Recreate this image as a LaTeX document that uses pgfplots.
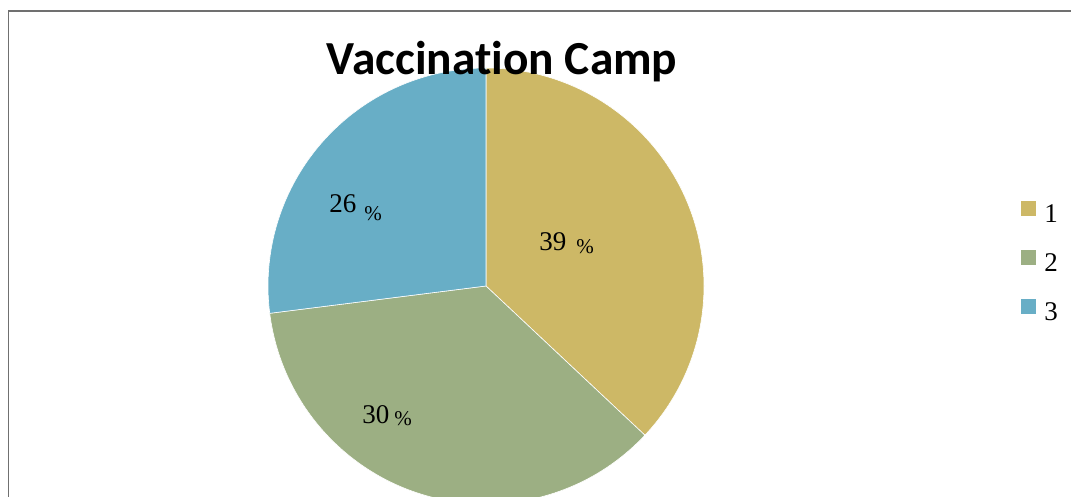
\documentclass[border=0pt]{standalone}
\usepackage{pgfplots}
\pgfplotsset{compat=1.18}
\usepackage{pgfplotstable}
\usepackage{fontspec}
\setmainfont{Liberation Serif}
\newfontfamily\titlefont[Ligatures={NoCommon}]{Carlito}

\definecolor{campGold}{RGB}{205,184,102}
\definecolor{campGreen}{RGB}{156,175,131}
\definecolor{campBlue}{RGB}{104,174,198}
\definecolor{frameGray}{RGB}{112,112,112}

% slice shares as drawn (the printed labels are kept as in the source)
\pgfplotstableread{
id share
1  37.0
2  36.0
3  27.0
}\campdata

\begin{document}
\begin{tikzpicture}
\pgfplotstablegetelem{0}{share}\of\campdata \let\shareA\pgfplotsretval
\pgfplotstablegetelem{1}{share}\of\campdata \let\shareB\pgfplotsretval
\pgfplotstablegetelem{2}{share}\of\campdata \let\shareC\pgfplotsretval
\pgfmathsetmacro\total{\shareA+\shareB+\shareC}
\pgfmathsetmacro\endA{90-360*\shareA/\total}
\pgfmathsetmacro\endB{\endA-360*\shareB/\total}
\path[use as bounding box] (0,0) rectangle (535.5pt,248.5pt);
\begin{axis}[
  at={(0,0)}, anchor=south west,
  scale only axis,
  width=535.5pt, height=248.5pt,
  xmin=0, xmax=1071, ymin=0, ymax=497,
  axis line style={draw=none},
  xtick=\empty, ytick=\empty,
  clip=true,
]
%% outer frame (right and bottom sides fall outside the picture)
\draw[frameGray, line width=0.75pt] (axis cs:8.5,-10) -- (axis cs:8.5,486) -- (axis cs:1080,486);
%% pie, clockwise from 12 o'clock
\fill[campGold, draw=white, line width=0.3pt] (axis cs:486,211) -- ++(90:109pt)
  arc[start angle=90, end angle=\endA, radius=109pt] -- cycle;
\fill[campGreen, draw=white, line width=0.3pt] (axis cs:486,211) -- ++(\endA:109pt)
  arc[start angle=\endA, end angle=\endB, radius=109pt] -- cycle;
\fill[campBlue, draw=white, line width=0.3pt] (axis cs:486,211) -- ++(\endB:109pt)
  arc[start angle=\endB, end angle=-270, radius=109pt] -- cycle;
%% data labels
\begin{scope}[every node/.style={inner sep=0pt, anchor=base west}]
\node[font=\fontsize{13.5}{16}\selectfont] at (axis cs:539,246) {39};
\node[font=\fontsize{10.5}{12}\selectfont] at (axis cs:576,243) {\%};
\node[font=\fontsize{13.5}{16}\selectfont] at (axis cs:329,284) {26};
\node[font=\fontsize{10.5}{12}\selectfont] at (axis cs:364,276) {\%};
\node[font=\fontsize{13.5}{16}\selectfont] at (axis cs:362,73) {30};
\node[font=\fontsize{10.5}{12}\selectfont] at (axis cs:394,71) {\%};
%% legend
\fill[campGold]  (axis cs:1021,296) rectangle (axis cs:1036,281);
\fill[campGreen] (axis cs:1021,247) rectangle (axis cs:1036,232);
\fill[campBlue]  (axis cs:1021,198) rectangle (axis cs:1036,183);
\node[font=\fontsize{13.5}{16}\selectfont] at (axis cs:1044,274) {1};
\node[font=\fontsize{13.5}{16}\selectfont] at (axis cs:1044,225) {2};
\node[font=\fontsize{13.5}{16}\selectfont] at (axis cs:1044,176) {3};
\end{scope}
%% title
\node[anchor=base, inner sep=0pt, font=\titlefont\bfseries\fontsize{23.7}{28}\selectfont]
  at (axis cs:502,422) {Vaccination Camp};
\end{axis}
\end{tikzpicture}
\end{document}
